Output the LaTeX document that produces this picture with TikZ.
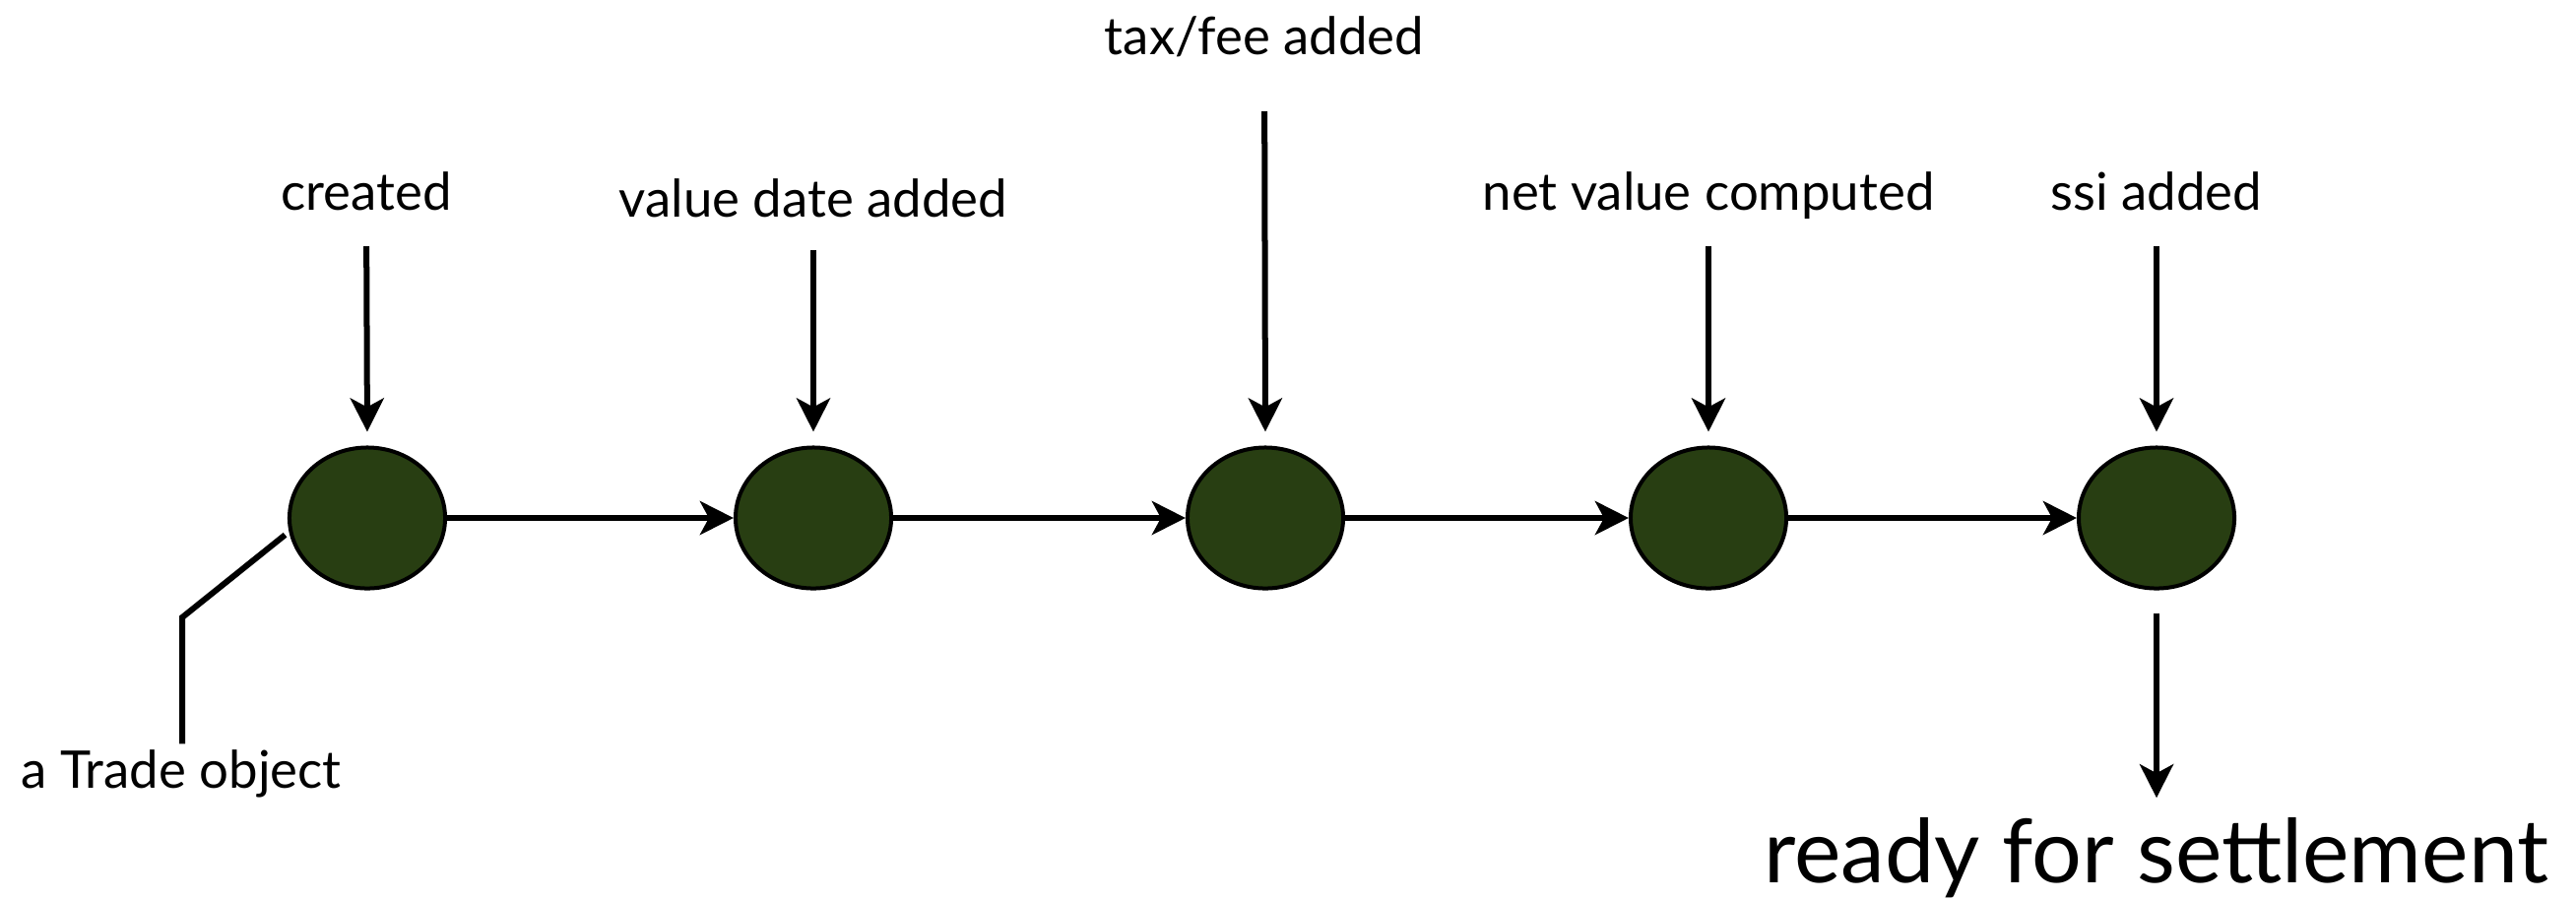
\documentclass[tikz,border=0pt]{standalone}
\usepackage{fontspec}
\setmainfont{Lato}
\usetikzlibrary{shapes.geometric}
\usetikzlibrary{arrows.meta}
\usetikzlibrary{positioning}
\definecolor{stagegreen}{RGB}{40,62,18}

\begin{document}
\begin{tikzpicture}[x=0.01cm, y=-0.01cm,
  stage/.style={ellipse, draw=black, line width=0.04cm, fill=stagegreen,
    minimum width=1.58cm, minimum height=1.43cm, inner sep=0pt},
  lbl/.style={font=\fontsize{15}{18}\selectfont, inner sep=0pt, anchor=base},
  flow/.style={line width=0.06cm, -{Stealth[length=0.34cm, width=0.34cm, inset=0.09cm]}},
  leader/.style={line width=0.06cm}]
\useasboundingbox (0,0) rectangle (2616,914);
% the stages the trade goes through
\node[stage] (s1) at (373,526) {};
\node[stage] (s2) at (826,526) {};
\node[stage] (s3) at (1285,526) {};
\node[stage] (s4) at (1735,526) {};
\node[stage] (s5) at (2190,526) {};
\draw[flow] (s1) -- (s2);
\draw[flow] (s2) -- (s3);
\draw[flow] (s3) -- (s4);
\draw[flow] (s4) -- (s5);
% what is done at each stage
\node[lbl] (created) at (372,213) {created};
\node[lbl] (valdate) at (826,220) {value date added};
\node[lbl] (taxfee) at (1284,55) {tax/fee added};
\node[lbl] (netval) at (1735,213) {net value computed};
\node[lbl] (ssi) at (2190,213) {ssi added};
\draw[flow, shorten <=0.37cm, shorten >=0.14cm] (created.base) -- (s1.north);
\draw[flow, shorten <=0.34cm, shorten >=0.14cm] (valdate.base) -- (s2.north);
\draw[flow, shorten <=0.58cm, shorten >=0.14cm] (taxfee.base) -- (s3.north);
\draw[flow, shorten <=0.37cm, shorten >=0.14cm] (netval.base) -- (s4.north);
\draw[flow, shorten <=0.37cm, shorten >=0.14cm] (ssi.base) -- (s5.north);
% the object itself
\node[lbl, anchor=base west] (trade) at (21,800) {a Trade object};
\coordinate (bend) at (185,627);
\draw[leader, shorten <=0.05cm, shorten >=0.05cm] (trade.north -| bend) -- (bend) -- (s1.190);
% end of the chain
\node[font=\fontsize{25.5}{30}\selectfont, inner sep=0pt, anchor=base] (ready) at (2190,896) {ready for settlement};
\draw[flow, shorten <=0.23cm, shorten >=0.19cm] (s5.south) -- (ready.north);
\end{tikzpicture}
\end{document}
